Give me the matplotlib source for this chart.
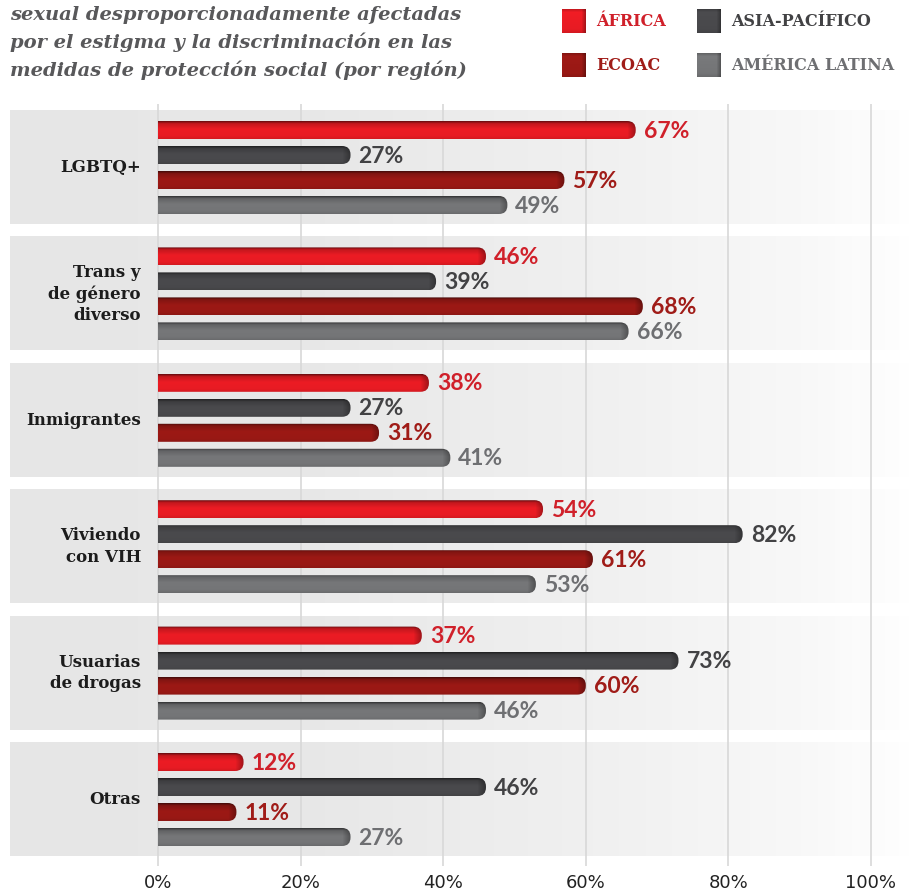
import numpy as np
import matplotlib.pyplot as plt
from matplotlib.patches import FancyBboxPatch
from matplotlib.colors import to_rgb

# groups (top to bottom) and the four regions drawn inside each group
categories = ["LGBTQ+", "Trans y\nde género\ndiverso", "Inmigrantes",
              "Viviendo\ncon VIH", "Usuarias\nde drogas", "Otras"]
regions = ["ÁFRICA", "ASIA-PACÍFICO", "ECOAC", "AMÉRICA LATINA"]
africa = [67, 46, 38, 54, 37, 12]
asia = [27, 39, 27, 82, 73, 46]
ecoac = [57, 68, 31, 61, 60, 11]
latam = [49, 66, 41, 53, 46, 27]
ticks = [0, 20, 40, 60, 80, 100]
title_lines = ["sexual desproporcionadamente afectadas",
               "por el estigma y la discriminación en las",
               "medidas de protección social (por región)"]

bar_colors = ["#ec1c24", "#4a4a4d", "#9c1915", "#767779"]
text_colors = ["#d0202a", "#424244", "#a01c18", "#6e6f72"]

W, H = 909, 892
PX = 7.13      # pixels per percent
X0 = 158       # pixel of 0 %
GP = 126.4     # pixels per group
Y0 = 167.5     # pixel of first group centre
BAR_H = 18 / GP
OFFS = np.array([-37.5, -12.5, 12.5, 37.5]) / GP


def shade(base, rows, cols, end_px=9, top_dark=0.45):
    base = np.array(to_rgb(base))
    t = np.linspace(0, 1, rows)
    fv = np.interp(t, [0, 0.12, 0.45, 0.85, 1],
                   [top_dark, (1 + top_dark) / 2 + 0.1, 1.0, 0.98, 0.9])
    x = np.arange(cols)
    fh = 1 - 0.35 * np.clip((x - (cols - end_px)) / end_px, 0, 1)
    img = base[None, None, :] * fv[:, None, None] * fh[None, :, None]
    return np.clip(img, 0, 1)


def draw_bar(ax, y, v, color):
    r = 8.5 / PX
    patch = FancyBboxPatch((-3, y - BAR_H / 2), v + 3, BAR_H,
                           boxstyle=f"round,pad=0,rounding_size={r}",
                           mutation_aspect=PX / GP, fc="none", ec="none")
    ax.add_patch(patch)
    img = shade(color, 24, max(int(v * PX), 12))
    im = ax.imshow(img, extent=(0, v, y + BAR_H / 2, y - BAR_H / 2),
                   aspect="auto", interpolation="bilinear", zorder=3)
    im.set_clip_path(patch)


fig = plt.figure(figsize=(W / 100, H / 100), dpi=100)
ax = fig.add_axes([0, (H - 866) / H, 1, (866 - 104) / H])

xmin, xmax = -X0 / PX, (W - X0) / PX

# grey bands behind each group, fading to white on the right
band_x = np.linspace(-148 / PX, xmax, 400)
band_g = np.interp(band_x, [-21, 20, 60, 90, 101, 106],
                   [0.905, 0.907, 0.94, 0.972, 0.99, 1.0])
band = np.repeat(band_g[None, :, None], 3, axis=2)
for i in range(len(categories)):
    ax.imshow(band, extent=(band_x[0], xmax, i + 0.447, i - 0.447),
              aspect="auto", interpolation="bilinear", zorder=0)

series = [africa, asia, ecoac, latam]
for i, cat in enumerate(categories):
    ax.text(-17 / PX, i, cat, ha="right", va="center", multialignment="right",
            fontsize=12, fontweight="bold", family="DejaVu Serif",
            color="#1c1c1c", linespacing=1.35, zorder=4)
    for k, vals in enumerate(series):
        y = i + OFFS[k]
        draw_bar(ax, y, vals[i], bar_colors[k])
        ax.text(vals[i] + 8 / PX, y + 0.008, f"{vals[i]}%", ha="left", va="center",
                fontsize=16.5, fontweight="bold", family="Lato",
                color=text_colors[k], zorder=4)

ax.set_xlim(xmin, xmax)
ax.set_ylim((866 - Y0) / GP, (104 - Y0) / GP)
ax.set_xticks(ticks)
ax.set_xticklabels([f"{t}%" for t in ticks],
                   family=["Liberation Sans Narrow", "DejaVu Sans"],
                   fontsize=13, color="#222222")
ax.tick_params(axis="x", length=0, pad=6)
ax.set_yticks([])
ax.set_axisbelow(True)
ax.grid(axis="x", color="#d8d8d8", linewidth=1.2)
for s in ax.spines.values():
    s.set_visible(False)
ax.patch.set_alpha(0)

# title and legend in pixel coordinates
top = fig.add_axes([0, 0, 1, 1], zorder=5)
top.set_xlim(0, W)
top.set_ylim(H, 0)
top.axis("off")
top.patch.set_alpha(0)

for j, line in enumerate(title_lines):
    top.text(10, 20 + 28 * j, line, ha="left", va="baseline", fontsize=14,
             fontweight="bold", style="italic", family="DejaVu Serif",
             color="#58585a")

leg_x = [562, 697, 562, 697]
leg_y = [9, 9, 53, 53]
for k, name in enumerate(regions):
    x, y = leg_x[k], leg_y[k]
    sq = shade(bar_colors[k], 24, 24, end_px=5, top_dark=0.85)
    top.imshow(sq, extent=(x, x + 24, y + 24, y), aspect="auto",
               interpolation="bilinear")
    top.text(x + 34, y + 12, name, ha="left", va="center", fontsize=11.5,
             fontweight="bold", family="DejaVu Serif", color=text_colors[k])
top.set_xlim(0, W)
top.set_ylim(H, 0)

fig.savefig("out.png", dpi=100)
